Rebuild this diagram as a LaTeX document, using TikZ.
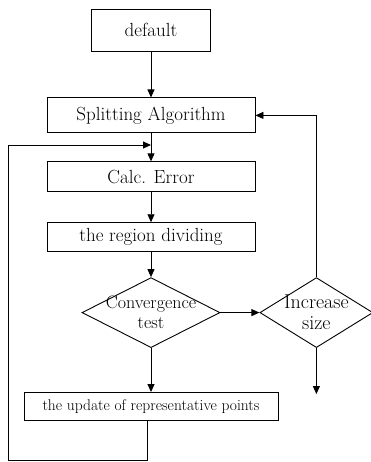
\documentclass[tikz,border=0pt]{standalone}
\usetikzlibrary{arrows.meta,positioning,shapes.geometric}

\begin{document}
\begin{tikzpicture}[
	x=1pt, y=-1pt,
	node distance=30pt,
	box/.style={rectangle, draw=black, line width=0.9pt, minimum width=208pt, inner sep=0pt, align=center, font=\fontsize{19}{22}\selectfont},
	decision/.style={diamond, draw=black, line width=0.9pt, inner sep=-14pt, minimum height=70pt, align=center, font=\fontsize{18}{20}\selectfont},
	arrow/.style={-{Triangle[length=8pt,width=7pt]}, line width=0.9pt}
	]
	\useasboundingbox (0,0) rectangle (371,462);
	% Nodes
	\node[box, minimum width=119pt, minimum height=42pt] (default) at (151,30) {default};
	\node[box, minimum height=35pt, below=46pt of default] (split) {Splitting Algorithm};
	\node[box, minimum height=30pt, below=28pt of split] (calc) {Calc. Error};
	\node[box, minimum height=29pt, below=30pt of calc] (region) {the region dividing};
	\node[decision, minimum width=138pt, below=25pt of region] (conv) {Convergence\\test};
	\node[decision, minimum width=113pt, right=39pt of conv, font=\fontsize{20}{21}\selectfont] (incr) {Increase\\size};
	\node[box, minimum width=254pt, minimum height=28pt, below=44pt of conv, font=\fontsize{15.5}{18}\selectfont] (update) {the update of representative points};
	\coordinate[below=46pt of incr] (out);

	% Arrows
	\draw[arrow] (default) -- (split);
	\draw[arrow] (split) -- (calc);
	\draw[arrow] (calc) -- (region);
	\draw[arrow] (region) -- (conv);
	\draw[arrow] (conv) -- (update);
	\draw[arrow] (conv) -- (incr);
	\draw[arrow] (incr) -- (out);
	\draw[arrow] (incr.north) |- (split.east);
	\draw[arrow] ([xshift=-4pt]update.south) |- (8,460) -- (8,145) -- (split.south |- 0,145);
\end{tikzpicture}
\end{document}
